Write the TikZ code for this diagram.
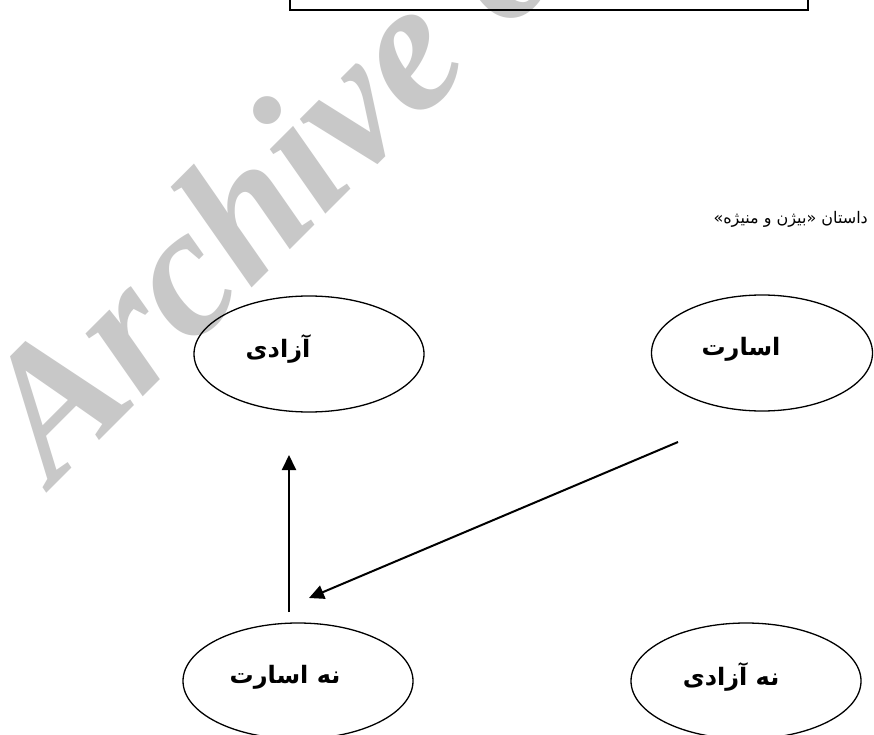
\documentclass[tikz,border=0pt]{standalone}
\usepackage{fontspec}
\usetikzlibrary{shapes.geometric,arrows.meta}
\TeXXeTstate=1
\newfontfamily\fa[Script=Arabic]{DejaVu Sans}
\newfontfamily\wmfont{Liberation Serif}
\definecolor{wmgray}{RGB}{200,200,200}
\tikzset{
  oval/.style={draw=black,line width=1.3pt,ellipse,minimum width=230pt,minimum height=116pt,inner sep=0pt},
  ovallabel/.style={font=\fa\bfseries\fontsize{24}{28}\selectfont,inner sep=0pt},
  arr/.style={line width=2pt,-{Triangle[length=15pt,width=14pt]}},
  wm/.style={text=wmgray,font=\wmfont\bfseries\itshape\fontsize{185}{190}\selectfont,inner sep=0pt}
}
\begin{document}
\begin{tikzpicture}[x=1pt,y=-1pt]
\useasboundingbox (0,0) rectangle (874,735);
\clip (0,0) rectangle (874,735);
\fill[white] (0,0) rectangle (874,735);
% watermark
\node[wm,rotate=45,anchor=base west] (wmark) at (53,487) {Archive of SID};
% top box
\node[draw=black,line width=1.8pt,minimum width=518pt,minimum height=60pt,inner sep=0pt,anchor=south west] (box) at (289,11) {};
% title
\node[font=\fa\fontsize{16}{19}\selectfont,anchor=east,inner sep=0pt] (title) at (868,219) {\beginR داستان «بیژن و منیژه»\endR};
% ellipses
\node[oval] (azadi) at (309,354) {};
\node[oval,minimum width=221pt] (asarat) at (762,353) {};
\node[oval] (naasarat) at (298,681) {};
\node[oval] (naazadi) at (746,681) {};
% labels
\node[ovallabel] (tazadi) at (278,349) {\beginR آزادی\endR};
\node[ovallabel] (tasarat) at (741,349) {\beginR اسارت\endR};
\node[ovallabel] (tnaasarat) at (285,677) {\beginR نه اسارت\endR};
\node[ovallabel] (tnaazadi) at (731,677) {\beginR نه آزادی\endR};
% arrows
\coordinate (v1) at (289,612);
\coordinate (v2) at (289,455);
\coordinate (d1) at (678,442);
\coordinate (d2) at (309,598);
\draw[arr] (v1) -- (v2);
\draw[arr] (d1) -- (d2);
\end{tikzpicture}
\end{document}
